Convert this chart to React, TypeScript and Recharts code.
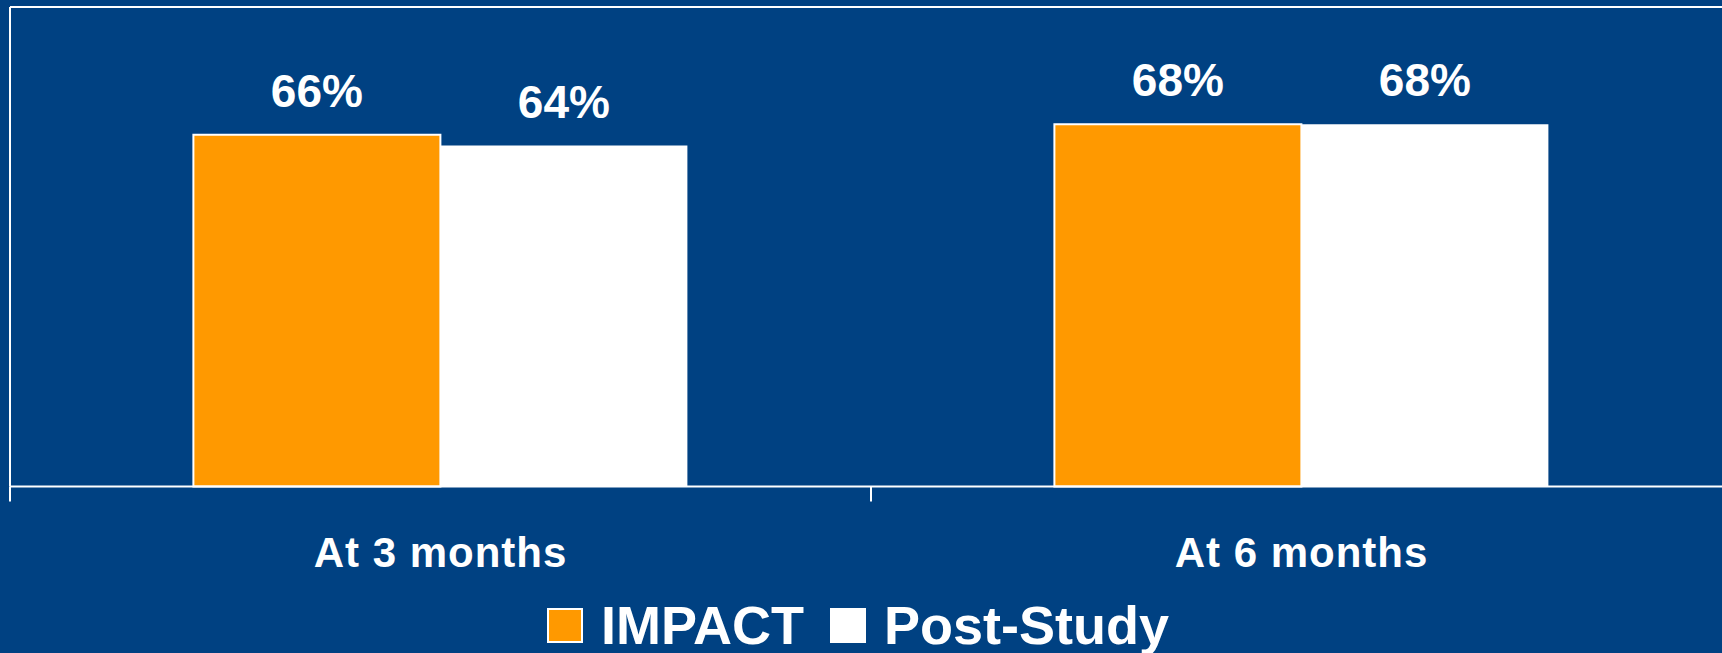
import React from "react";
import {
    BarChart,
    Bar,
    XAxis,
    YAxis,
    ReferenceLine,
    LabelList,
    Legend,
    Text,
} from "recharts";

const categories = ["At 3 months", "At 6 months"];
const impactValues = [66, 68];
const postStudyValues = [64, 68];
const seriesNames = ["IMPACT", "Post-Study"];
const yMax = 90;

const BG = "#004182";
const ORANGE = "#FF9900";
const WHITE = "#FFFFFF";
const FONT = "'Liberation Sans', Arial, Helvetica, sans-serif";

const TICK_SIZE = 6;
const TICK_MARGIN = 44.5;
const SEP_LEN = 15;

const data = categories.map((name, i) => ({
    name,
    impact: impactValues[i],
    postStudy: postStudyValues[i],
}));

const pct = (v: any) => `${v}%`;

// category label plus the short separator marks at the band edges
const CategoryTick = (props: any) => {
    const { x, y, payload, index, visibleTicksCount } = props;
    const axisY = y - TICK_SIZE - TICK_MARGIN;
    const half = payload && typeof payload.offset === "number" ? payload.offset : 0;
    const isLast = index === visibleTicksCount - 1;
    return (
        <g>
            {half > 0 && (
                <line x1={x - half} x2={x - half} y1={axisY} y2={axisY + SEP_LEN} stroke={WHITE} strokeWidth={2} />
            )}
            {half > 0 && isLast && (
                <line x1={x + half} x2={x + half} y1={axisY} y2={axisY + SEP_LEN} stroke={WHITE} strokeWidth={2} />
            )}
            <Text
                x={x}
                y={y}
                textAnchor="middle"
                verticalAnchor="start"
                fill={WHITE}
                fontSize={42}
                fontWeight="bold"
                fontFamily={FONT}
                letterSpacing={1}
            >
                {payload.value}
            </Text>
        </g>
    );
};

const LegendRow = (props: any) => {
    const items = props.payload || [];
    return (
        <div
            style={{
                display: "flex",
                alignItems: "center",
                whiteSpace: "nowrap",
                fontFamily: FONT,
                fontWeight: "bold",
                fontSize: 54,
                lineHeight: 1,
                color: WHITE,
            }}
        >
            {items.map((item: any, i: number) => (
                <div
                    key={item.value}
                    style={{
                        display: "flex",
                        alignItems: "center",
                        marginRight: i === 0 ? 26 : 0,
                    }}
                >
                    <span
                        style={{
                            display: "inline-block",
                            boxSizing: "border-box",
                            width: 36,
                            height: 35,
                            background: item.color,
                            border: i === 0 ? "2px solid #fff" : "none",
                            marginRight: 18,
                        }}
                    />
                    <span>{item.value}</span>
                </div>
            ))}
        </div>
    );
};

const App: React.FC = () => {
    return (
        <div
            style={{
                position: "absolute",
                left: 0,
                top: 0,
                width: 1722,
                height: 653,
                overflow: "hidden",
                background: BG,
            }}
        >
            <BarChart
                width={1732}
                height={653}
                data={data}
                margin={{ top: 7, right: 0, left: 9, bottom: 66.5 }}
                barCategoryGap="21.3%"
                barGap={0}
            >
                <XAxis
                    dataKey="name"
                    height={100}
                    interval={0}
                    tickLine={false}
                    tickSize={TICK_SIZE}
                    tickMargin={TICK_MARGIN}
                    axisLine={{ stroke: WHITE, strokeWidth: 2 }}
                    tick={<CategoryTick />}
                />
                <YAxis
                    width={1}
                    domain={[0, yMax]}
                    tick={false}
                    tickLine={false}
                    axisLine={{ stroke: WHITE, strokeWidth: 2 }}
                />
                <ReferenceLine y={yMax} stroke={WHITE} strokeWidth={2} />
                <Legend
                    layout="horizontal"
                    verticalAlign="middle"
                    align="center"
                    content={<LegendRow />}
                    wrapperStyle={{ top: 598, left: 547, width: "auto", height: "auto" }}
                />
                <Bar
                    dataKey="impact"
                    name={seriesNames[0]}
                    fill={ORANGE}
                    stroke={WHITE}
                    strokeWidth={2}
                    isAnimationActive={false}
                >
                    <LabelList
                        dataKey="impact"
                        position="top"
                        offset={28}
                        formatter={pct}
                        fill={WHITE}
                        fontSize={46}
                        fontWeight="bold"
                        fontFamily={FONT}
                    />
                </Bar>
                <Bar
                    dataKey="postStudy"
                    name={seriesNames[1]}
                    fill={WHITE}
                    isAnimationActive={false}
                >
                    <LabelList
                        dataKey="postStudy"
                        position="top"
                        offset={28}
                        formatter={pct}
                        fill={WHITE}
                        fontSize={46}
                        fontWeight="bold"
                        fontFamily={FONT}
                    />
                </Bar>
            </BarChart>
        </div>
    );
};

export default App;
